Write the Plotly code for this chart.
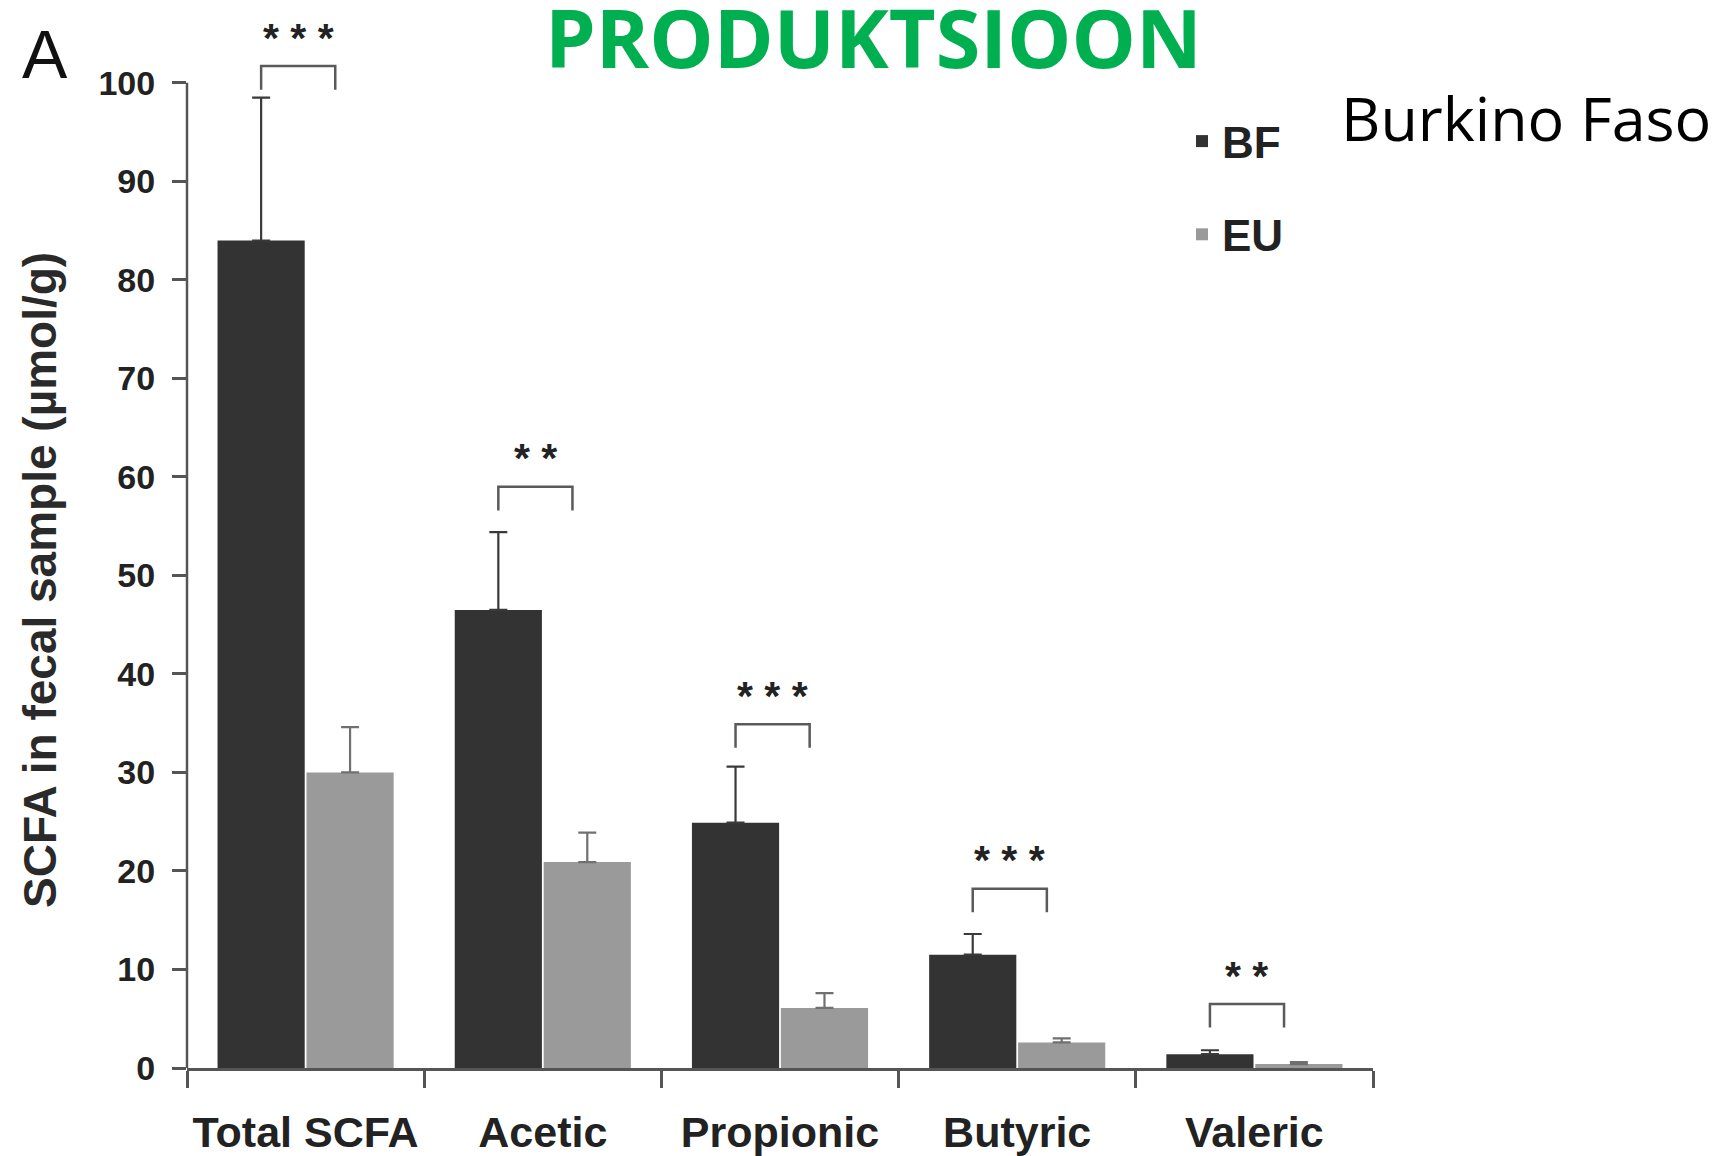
import plotly.graph_objects as go

categories = ["Total SCFA", "Acetic", "Propionic", "Butyric", "Valeric"]
bf_values = [84.0, 46.5, 24.9, 11.5, 1.4]
bf_errors = [14.5, 7.9, 5.7, 2.1, 0.4]
eu_values = [30.0, 20.9, 6.1, 2.6, 0.4]
eu_errors = [4.6, 3.0, 1.5, 0.4, 0.2]
significance = ["***", "**", "***", "***", "**"]
bracket_tops = [101.7, 59.0, 34.9, 18.2, 6.5]
y_ticks = [0, 10, 20, 30, 40, 50, 60, 70, 80, 90, 100]

W, H = 1724, 1156
L, R, T, B = 179, 359, 0, 96
PW, PH = W - L - R, H - T - B
YMAX = 107.6


def px_x(x):
    return (x - L) / PW


def px_y(y):
    return (H - B - y) / PH


xpos = list(range(len(categories)))
fig = go.Figure()
fig.add_trace(go.Bar(
    x=xpos, y=bf_values, name="<b>BF</b>", marker_color="#333333", marker_line_width=0,
    legendgroup="bf",
    error_y=dict(type="data", array=bf_errors, arrayminus=[0] * len(bf_errors),
                 symmetric=False, color="#3a3a3a", thickness=2.2, width=9),
))
fig.add_trace(go.Bar(
    x=xpos, y=eu_values, name="<b>EU</b>", marker_color="#9a9a9a", marker_line_width=0,
    legendgroup="eu",
    error_y=dict(type="data", array=eu_errors, arrayminus=[0] * len(eu_errors),
                 symmetric=False, color="#707070", thickness=2.2, width=9),
))

bar_off = 0.1875
leg = 2.4
for i, (top, sig) in enumerate(zip(bracket_tops, significance)):
    xl = i - bar_off
    xr = i + 0.125
    fig.add_trace(go.Scatter(
        x=[xl, xl, xr, xr], y=[top - leg, top, top, top - leg], mode="lines",
        line=dict(color="#5a5a5a", width=2.5), showlegend=False, hoverinfo="skip",
    ))
    fig.add_annotation(x=(xl + xr) / 2, y=top + 0.35, xref="x", yref="y",
                       text="<b>" + " ".join(sig) + "</b>",
                       showarrow=False, xanchor="center", yanchor="bottom",
                       font=dict(family="Liberation Sans, Arial", size=41, color="#222222"))

# y axis line from 0 to 100
fig.add_shape(type="line", xref="paper", yref="y", x0=0, x1=0, y0=0, y1=100,
              line=dict(color="#555555", width=2.5))

fig.add_annotation(x=px_x(32), y=px_y(572), xref="paper", yref="paper",
                   xanchor="center", yanchor="middle",
                   text="<b>SCFA in fecal sample (µmol/g)</b>", textangle=-90, showarrow=False,
                   font=dict(family="Liberation Sans, Arial", size=46, color="#2a2a2a"))
fig.add_annotation(x=px_x(12), y=px_y(6), xref="paper", yref="paper",
                   xanchor="left", yanchor="top",
                   text="A", showarrow=False,
                   font=dict(family="Liberation Sans, Arial", size=68, color="#111111"))
fig.add_annotation(x=px_x(865), y=px_y(-29), xref="paper", yref="paper",
                   xanchor="center", yanchor="top",
                   text="<b>PRODUKTSIOON</b>", showarrow=False,
                   font=dict(family="Open Sans", size=81, color="#00B050"))
fig.add_annotation(x=px_x(1331), y=px_y(66), xref="paper", yref="paper",
                   xanchor="left", yanchor="top",
                   text="Burkino Faso", showarrow=False,
                   font=dict(family="Open Sans", size=61, color="#000000"))

fig.update_layout(
    width=W, height=H, margin=dict(l=L, r=R, t=T, b=B, pad=0),
    plot_bgcolor="white", paper_bgcolor="white",
    barmode="group", bargap=0.25, bargroupgap=0.02,
    showlegend=True,
    legend=dict(x=px_x(1174), y=px_y(98), xanchor="left", yanchor="top",
                font=dict(family="Liberation Sans, Arial", size=44, color="#222222"),
                tracegroupgap=33, bgcolor="rgba(0,0,0,0)"),
    xaxis=dict(range=[-0.5, 4.5], tickmode="array", tickvals=xpos,
               ticktext=[f"<b>{c}</b>" for c in categories],
               ticks="", showgrid=False, zeroline=False,
               showline=True, linecolor="#555555", linewidth=2.5,
               ticklabelstandoff=25,
               tickfont=dict(family="Liberation Sans, Arial", size=43, color="#222222"),
               minor=dict(tick0=-0.5, dtick=1, ticks="outside", ticklen=17,
                          tickwidth=2.5, tickcolor="#555555", showgrid=False)),
    yaxis=dict(range=[0, YMAX], tickmode="array", tickvals=y_ticks,
               ticktext=[f"<b>{v}</b>" for v in y_ticks],
               ticks="outside", ticklen=14, tickwidth=2.5, tickcolor="#555555",
               showgrid=False, zeroline=False, showline=False,
               ticklabelstandoff=10,
               tickfont=dict(family="Liberation Sans, Arial", size=34, color="#222222")),
)

fig.write_html("out.html")
